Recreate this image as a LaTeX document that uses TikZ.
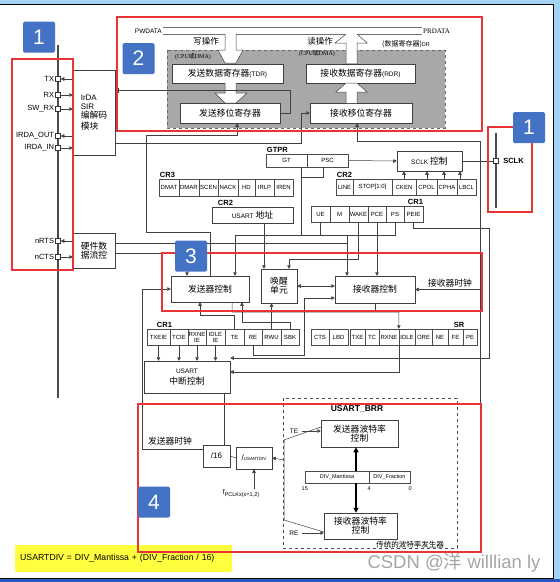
\documentclass[tikz,border=0pt]{standalone}
\usepackage{fontspec}
\setmainfont{Liberation Sans}
\newfontfamily\cjk{Noto Sans CJK SC}
\newfontfamily\serifrm{Liberation Serif}
\usetikzlibrary{arrows.meta, positioning, calc}
\definecolor{tagblue}{RGB}{68,114,196}
\definecolor{markred}{RGB}{232,52,52}
\definecolor{shade}{RGB}{168,168,168}
\definecolor{hilite}{RGB}{255,255,64}
\definecolor{framesky}{RGB}{163,211,247}
\definecolor{framedeep}{RGB}{40,90,190}
\newcommand{\fsz}[1]{\fontsize{#1}{#1}\selectfont}

\tikzset{
  wire/.style={draw=black!75, line width=0.5pt},
  sig/.style={wire, -{Triangle[length=3.5pt,width=3.5pt]}},
  blk/.style={draw=black!75, fill=white, line width=0.5pt, inner sep=1pt, align=center, font=\cjk\fsz{8.8}},
  cell/.style={draw=black!70, fill=white, line width=0.45pt, inner sep=0pt, align=center, font=\fsz{6}},
  regname/.style={font=\bfseries\fsz{7.5}, inner sep=1pt},
  pin/.style={draw=black!80, fill=white, line width=0.5pt, minimum size=5pt, inner sep=0pt},
  pinlbl/.style={font=\fsz{7.5}, inner sep=1pt},
  redmark/.style={draw=markred, line width=1.6pt},
  tag/.style={fill=tagblue, text=white, rounded corners=1.5pt, minimum width=32pt, minimum height=31pt, font=\fsz{21}, inner sep=0pt},
  hollow/.style={draw=black!75, fill=white, line width=0.5pt},
}

\begin{document}
\begin{tikzpicture}[x=1pt, y=-1pt]
  \useasboundingbox (0,0) rectangle (560,582);
  % screenshot frame
  \fill[framesky] (0,0) rectangle (560,582);
  \fill[white] (0,4.5) rectangle (553,578);
  \draw[black, line width=0.8pt] (0,4.5) -- (553,4.5) -- (553,578) -- (0,578);
  \fill[framedeep] (0,579) rectangle (560,582);

  % pins on the left
  \draw[draw=black!70, line width=1.1pt] (58,45) -- (58,398);
  \node[blk, minimum width=42pt, minimum height=85pt, font=\fsz{8}, align=left] (irda) at (94,112.5) {IrDA\\[1pt]SIR\\[1pt]{\cjk\fsz{8.8}编解码}\\[2pt]{\cjk\fsz{8.8}模块}};
  \node[blk, minimum width=42pt, minimum height=35pt] (hwfc) at (94,250.5) {硬件数\\据流控};
  \foreach \nm/\y/\txt in {pTX/79/TX, pRX/95/RX, pSWRX/109/SW\_RX, pIRO/136/IRDA\_OUT, pIRI/148/IRDA\_IN, pRTS/241/nRTS, pCTS/257/nCTS}{
    \node[pin] (\nm) at (58,\y) {};
    \node[pinlbl, left=0pt of \nm] {\txt};
  }
  \draw[sig] (pTX -| irda.west) -- (pTX.east);
  \draw[sig] (pRX.east) -- (pRX -| irda.west);
  \draw[sig] (pSWRX.east) -- (pSWRX -| irda.west);
  \draw[sig] (pIRO -| irda.west) -- (pIRO.east);
  \draw[sig] (pIRI.east) -- (pIRI -| irda.west);
  \draw[sig] (pRTS -| hwfc.west) -- (pRTS.east);
  \draw[sig] (pCTS.east) -- (pCTS -| hwfc.west);

  % data registers
  \node[font=\fsz{6.5}, anchor=east, inner sep=1pt] (pwlbl) at (163,31) {PWDATA};
  \node[font=\serifrm\fsz{7}, anchor=west, inner sep=1pt] (prlbl) at (422,31) {PRDATA};
  \draw[draw=black!55, line width=0.6pt] (pwlbl.east |- 0,27) -- (prlbl.west |- 0,27);
  \draw[draw=black!55, line width=0.6pt] (pwlbl.east |- 0,34) -- (225,34) (236,34) -- (346,34) (357,34) -- (prlbl.west |- 0,34);
  \draw[dashed, fill=shade, draw=black!60, line width=0.6pt] (167,50) rectangle (445,128);
  \node[font=\cjk\fsz{8.5}] (wrop) at (206,41) {写操作};
  \node[font=\cjk\fsz{8.5}] (rdop) at (320,41) {读操作};
  \node[font=\serifrm\fsz{6}] at (193,57) {(CPU{\cjk 或}DMA)};
  \node[font=\serifrm\fsz{6}] at (317,54) {(CPU{\cjk 或}DMA)};
  \node[font=\cjk\fsz{7}] at (406,44) {(数据寄存器){\rmfamily\fsz{5.5}DR}};
  \node[blk, minimum width=111pt, minimum height=19pt] (tdr) at (227.5,73.5) {发送数据寄存器{\rmfamily\fsz{6.5}(TDR)}};
  \node[blk, minimum width=109pt, minimum height=19pt] (rdr) at (360.5,73.5) {接收数据寄存器{\rmfamily\fsz{6.5}(RDR)}};
  \node[blk, minimum width=100pt, minimum height=20pt] (txsr) at (230,113) {发送移位寄存器};
  \node[blk, minimum width=102pt, minimum height=20pt] (rxsr) at (361,113) {接收移位寄存器};
  % hollow transfer arrows
  \filldraw[hollow] (225,34) -- (225,50) -- (218,50) -- (225,63) -- (236,63) -- (243,50) -- (236,50) -- (236,34);
  \filldraw[hollow] (225,83) -- (225,93) -- (215,93) -- (225,103) -- (236,103) -- (247,93) -- (236,93) -- (236,83);
  \filldraw[hollow] (346,103) -- (346,92) -- (336,92) -- (346,83) -- (357,83) -- (367,92) -- (357,92) -- (357,103);
  \fill[white] (346,63) -- (346,43) -- (335,43) -- (346,34) -- (357,34) -- (367,43) -- (357,43) -- (357,63) -- cycle;
  \draw[wire] (346,64) -- (346,43) -- (335,43) -- (346,34);
  \draw[wire] (357,64) -- (357,43) -- (367,43) -- (357,34);

  % control registers
  \foreach \a/\b/\t [count=\i] in {159/179/DMAT,179/199/DMAR,199/218/SCEN,218/238/NACK,238/255/HD,255/274/IRLP,274/293/IREN}
    \node[cell, minimum width={(\b-\a)*1pt}, minimum height=17pt] (cr3-\i) at ({(\a+\b)/2},187.5) {\t};
  \node[regname, anchor=south west] at (cr3-1.north west) {CR3};
  \foreach \a/\b/\t [count=\i] in {266/307/GT,307/348/PSC}
    \node[cell, minimum width={(\b-\a)*1pt}, minimum height=13pt] (gtpr-\i) at ({(\a+\b)/2},160.5) {\t};
  \node[regname, anchor=south west] at (gtpr-1.north west) {GTPR};
  \foreach \a/\b/\t [count=\i] in {336/353/LINE,353/392/STOP[1:0],392/416/CKEN,416/437/CPOL,437/457/CPHA,457/476/LBCL}
    \node[cell, minimum width={(\b-\a)*1pt}, minimum height=16pt] (cr2-\i) at ({(\a+\b)/2},187) {\t};
  \node[regname, anchor=south west] at (cr2-1.north west) {CR2};
  \foreach \a/\b/\t [count=\i] in {311/330/UE,330/349/M,349/368/WAKE,368/386/PCE,386/404/PS,404/423/PEIE}
    \node[cell, minimum width={(\b-\a)*1pt}, minimum height=16pt] (cr1u-\i) at ({(\a+\b)/2},214) {\t};
  \node[regname, anchor=south west] at ([xshift=3pt]cr1u-6.north west) {CR1};
  \node[blk, minimum width=81pt, minimum height=16pt] (addr) at (252.5,215) {{\rmfamily\fsz{6.5}USART} 地址};
  \node[regname, anchor=south west] at ([xshift=5pt]addr.north west) {CR2};
  \foreach \a/\b/\t [count=\i] in {147/170/TXEIE,170/188/TCIE,188/206/RXNE\\IE,206/225/IDLE\\IE,225/244/TE,244/262/RE,262/281/RWU,281/299/SBK}
    \node[cell, minimum width={(\b-\a)*1pt}, minimum height=16pt] (cr1l-\i) at ({(\a+\b)/2},337) {\t};
  \node[regname, anchor=south west] at ([xshift=9pt]cr1l-1.north west) {CR1};
  \foreach \a/\b/\t [count=\i] in {311/329/CTS,329/348/LBD,350/365/TXE,365/379/TC,379/399/RXNE,399/415/IDLE,415/432/ORE,432/448/NE,448/463/FE,463/477/PE}
    \node[cell, minimum width={(\b-\a)*1pt}, minimum height=16pt] (sr-\i) at ({(\a+\b)/2},337) {\t};
  \node[regname, anchor=south west] at ([xshift=5pt]sr-9.north west) {SR};

  % clock / control blocks
  \node[blk, minimum width=65pt, minimum height=20pt] (sclk) at (429.5,161) {{\rmfamily\fsz{6.5}SCLK} 控制};
  \draw[draw=black!70, line width=1.1pt] (496,133) -- (496,208);
  \node[pin] (psclk) at (496,161) {};
  \node[font=\bfseries\fsz{7.5}, right=1pt of psclk] {SCLK};
  \node[blk, minimum width=36pt, minimum height=34pt] (wake) at (279,286) {唤醒\\单元};
  \node[blk, minimum width=78pt, minimum height=26pt] (txc) at (210,289) {发送器控制};
  \node[blk, minimum width=80pt, minimum height=27pt] (rxc) at (375,289.5) {接收器控制};
  \node[font=\cjk\fsz{8.8}] at (450,283) {接收器时钟};
  \node[blk, minimum width=86pt, minimum height=32pt] (intr) at (187,377) {{\rmfamily\fsz{6.5}USART}\\[3pt]中断控制};

  % baud rate part
  \node[blk, minimum width=27pt, minimum height=22pt, font=\fsz{8}] (div16) at (216.5,456) {/16};
  \node[blk, minimum width=36pt, minimum height=22pt, font=\fsz{8}] (udiv) at (254,458) {/{\fsz{4.5}USARTDIV}};
  \node[font=\fsz{7}, inner sep=1pt] (fpclk) at (241,494) {f{\fsz{5.5}\raisebox{-2pt}{PCLKx(x=1,2)}}};
  \node[font=\cjk\fsz{8.8}] at (170,441) {发送器时钟};
  \draw[dashed, draw=black!70, line width=0.6pt] (283,398) rectangle (457,548);
  \node[font=\bfseries\fsz{8.5}] at (357,409) {USART\_BRR};
  \node[blk, minimum width=77pt, minimum height=27pt] (txbaud) at (359.5,433.5) {发送器波特率\\控制};
  \node[blk, minimum width=73pt, minimum height=26pt] (rxbaud) at (360.5,526) {接收器波特率\\控制};
  \node[cell, minimum width=64pt, minimum height=12pt, font=\fsz{5.5}] (mant) at (337,477) {DIV\_Mantissa};
  \node[cell, minimum width=41pt, minimum height=12pt, font=\fsz{5.5}] (frac) at (389.5,477) {DIV\_Fraction};
  \node[font=\fsz{5.5}, below=0pt of mant.south west] {15};
  \node[font=\fsz{5.5}, below=0pt of mant.south east] {4};
  \node[font=\fsz{5.5}, below=0pt of frac.south east] {0};
  \node[font=\fsz{6.5}] (te) at (294,431) {TE};
  \node[font=\fsz{6.5}] (re) at (294,533) {RE};
  \node[font=\cjk\fsz{7.5}] at (410,545) {传统的波特率发生器};

  % connections
  \draw[wire, -{Bar[width=5pt]}] (txsr.east) -- ++(10,0) |- ([xshift=3pt]irda.east |- 0,90);
  \draw[sig] (irda.east |- 0,143) -| (301,113) -- (rxsr.west);
  \draw[sig] (txc.north) |- (146,232) |- (237,135) -- ([xshift=7pt]txsr.south);
  \coordinate (rclk) at (480,289.5);
  \draw[sig] (480,404) -- (480,141) -- (357,141) -- ([xshift=-4pt]rxsr.south);
  \draw[sig] (rclk) -- (rxc.east);
  \draw[sig] (gtpr-2.east) -- (sclk.west);
  \draw[wire, -{Bar[width=5pt]}] (sclk.east) -- ([xshift=-5pt]psclk.west);
  \draw[wire] (psclk.west) -- ++(-5,0);
  \foreach \i/\x in {3/404,4/427,5/444,6/460}
    \draw[sig] (cr2-\i.north -| \x,0) -- (sclk.south -| \x,0);
  % shared control line for GT, UE, PS
  \draw[wire] (gtpr-2.south -| 323,0) |- (301,177);
  \draw[wire] (gtpr-1.south -| 301,0) -- (301,235);
  \draw[wire] (cr1u-1.south) -- (cr1u-1.south |- 0,235);
  \draw[sig] (cr1u-5.south) |- (235,235) -- ([xshift=25pt]txc.north);
  \draw[sig] (347,235) -- ([xshift=-28pt]rxc.north);
  \draw[wire] ([yshift=7pt]hwfc.east) -- (347,243.5);
  \draw[sig] ([yshift=-3pt]hwfc.east) -| ([xshift=-23pt]txc.north);
  \draw[sig] ([xshift=11.5pt]addr.south) -- ([xshift=11.5pt]addr.south |- wake.north);
  \draw[sig] (cr1u-3.south) |- (289,259) -- ([xshift=10pt]wake.north);
  \draw[sig] (cr1u-4.south) -- (cr1u-4.south |- rxc.north);
  \draw[sig] (cr1u-6.south) |- (489,228) |- ([yshift=19pt]intr.east);
  \draw[sig] ([yshift=7pt]div16.west) -| (142,289) -- (txc.west);
  \draw[wire] ([xshift=7.5pt]div16.north) -- ([xshift=7.5pt]div16.north |- intr.south);
  \draw[wire] (udiv.west) -- (div16.east);
  \draw[wire] ([yshift=6.5pt]txbaud.west) -- (284,440) -- (284,520) -- ([yshift=-6pt]rxbaud.west);
  \draw[sig] (284,460) -- (udiv.east);
  \draw[sig] (te.east) -- (te.east -| txbaud.west);
  \draw[sig] (re.east) -- (re.east -| rxbaud.west);
  \draw[line width=1.3pt, -{Triangle[length=5pt,width=5pt]}] ([xshift=19pt]mant.north) -- ([xshift=19pt]mant.north |- txbaud.south);
  \draw[line width=1.3pt, -{Triangle[length=5pt,width=5pt]}] ([xshift=19pt]mant.south) -- ([xshift=19pt]mant.south |- rxbaud.north);
  \draw[sig] (udiv.south |- fpclk.north) -- (udiv.south);
  \foreach \i in {1,...,4}
    \draw[sig] (cr1l-\i.south) -- (cr1l-\i.south |- intr.north);
  \draw[sig] (cr1l-5.north) |- (200,315) -- ([xshift=-10pt]txc.south);
  \draw[sig] (cr1l-8.north) |- (242,322) -- ([xshift=32pt]txc.south);
  \draw[sig] (cr1l-7.north) -- (cr1l-7.north |- wake.south);
  \draw[sig] (cr1l-6.south) |- (304,355) |- ([yshift=-8.5pt]rxc.west);
  \draw[wire, {Triangle[length=3.5pt,width=3.5pt]}-{Triangle[length=3.5pt,width=3.5pt]}] (wake.east) -- (wake.east -| rxc.west);
  \draw[sig] ([xshift=22pt]txc.south) |- (399,312) -- (sr-6.north west);
  \draw[wire] (rxc.south) -- (rxc.south |- 0,312);
  \draw[sig] (sr-6.south west) |- ([yshift=5pt]intr.east);

  % formula and watermark
  \node[fill=hilite, anchor=north west, minimum width=217pt, minimum height=27pt, text width=207pt, align=left, font=\fsz{8.7}] (formula) at (15,545) {USARTDIV = DIV\_Mantissa + (DIV\_Fraction / 16)};
  \node[text=black!35, font=\fsz{18.5}, anchor=west] (wmark) at (364,563) {CSDN @{\cjk 洋} willlian ly};

  % red marks and number tags
  \draw[redmark] (12,59) rectangle (73,270);
  \draw[redmark] (117,17) rectangle (482,131);
  \draw[redmark] (488,127) rectangle (532,212);
  \draw[redmark] (162,253) rectangle (482,311);
  \draw[redmark] (138,404) rectangle (481,552);
  \node[tag] (tag1a) at (39,37) {1};
  \node[tag] (tag2) at (138.5,58.5) {2};
  \node[tag] (tag1b) at (529,127.5) {1};
  \node[tag] (tag3) at (191,256) {3};
  \node[tag] (tag4) at (154,502) {4};
\end{tikzpicture}
\end{document}
